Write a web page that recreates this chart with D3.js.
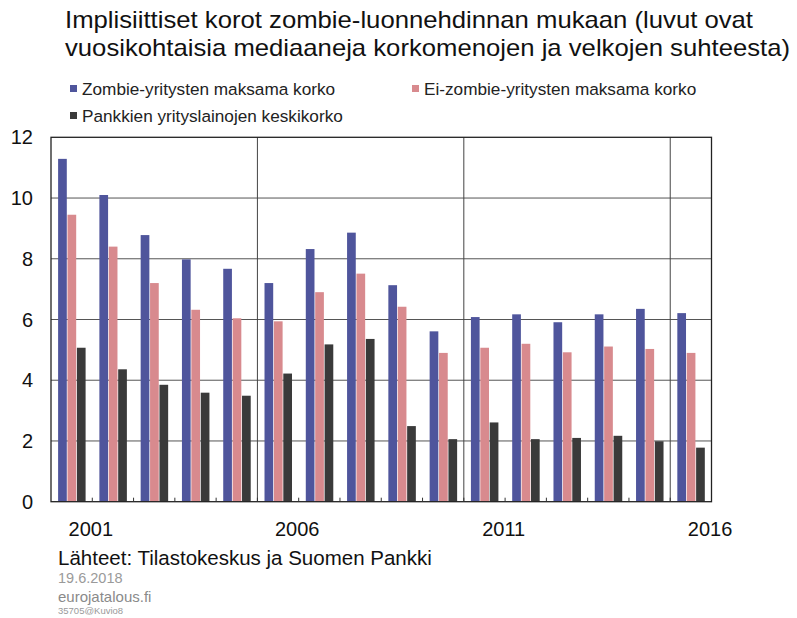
<!DOCTYPE html>
<html><head><meta charset="utf-8">
<script src="https://cdn.jsdelivr.net/npm/d3@7"></script>
<style>body{margin:0;background:#fff}svg{display:block;font-family:"Liberation Sans",Arial,sans-serif}</style>
</head><body><svg id="c" width="797" height="618"></svg>
<script>
const years = [2001,2002,2003,2004,2005,2006,2007,2008,2009,2010,2011,2012,2013,2014,2015,2016];
const seriesNames = ["Zombie-yritysten maksama korko","Ei-zombie-yritysten maksama korko","Pankkien yrityslainojen keskikorko"];
const zombie   = [11.29,10.10,8.78,7.98,7.67,7.20,8.32,8.86,7.13,5.61,6.08,6.17,5.91,6.17,6.35,6.21];
const nonZombie= [9.45,8.40,7.20,6.32,6.04,5.94,6.90,7.51,6.42,4.90,5.07,5.20,4.92,5.11,5.03,4.90];
const bankRate = [5.07,4.36,3.85,3.59,3.49,4.22,5.18,5.36,2.49,2.06,2.61,2.06,2.10,2.17,1.99,1.78];
const yTicks = [0,2,4,6,8,10,12];
const xLabels = [2001,2006,2011,2016];
const colors = ["#4f559c","#d88a8e","#3a3a3a"];

const svg = d3.select("#c");
const L=51, R=711.5, T=137.3, B=501.7;
const x = d3.scaleBand().domain(years).range([L,R]).paddingInner(0).paddingOuter(0);
const step = x.step();
const x1 = d3.scaleBand().domain([0,1,2]).range([step*0.172, step*0.855]);
const y = d3.scaleLinear().domain([0,12]).range([B,T]);

// Title
const title = svg.append("g").attr("font-size",24).attr("fill","#111");
title.append("text").attr("x",65).attr("y",28).attr("textLength",688).attr("lengthAdjust","spacingAndGlyphs")
  .text("Implisiittiset korot zombie-luonnehdinnan mukaan (luvut ovat");
title.append("text").attr("x",65).attr("y",56).attr("textLength",725).attr("lengthAdjust","spacingAndGlyphs")
  .text("vuosikohtaisia mediaaneja korkomenojen ja velkojen suhteesta)");

// Legend
const legPos = [[70,89],[412,89],[70,116]];
const leg = svg.append("g").attr("font-size",17.2).attr("fill","#222");
seriesNames.forEach((n,i)=>{
  leg.append("rect").attr("x",legPos[i][0]).attr("y",legPos[i][1]-4).attr("width",7).attr("height",7).attr("fill",colors[i]);
  leg.append("text").attr("x",legPos[i][0]+12).attr("y",legPos[i][1]+6).text(n);
});

// Grid
const grid = svg.append("g");
grid.selectAll("line.h").data(yTicks.filter(t=>t>0&&t<12)).join("line")
  .attr("x1",L).attr("x2",R).attr("y1",d=>y(d)).attr("y2",d=>y(d))
  .attr("stroke","#555").attr("stroke-width",1);
grid.selectAll("line.v").data([2006,2011,2016]).join("line")
  .attr("x1",d=>x(d)).attr("x2",d=>x(d)).attr("y1",T).attr("y2",B)
  .attr("stroke","#444").attr("stroke-width",1);

// Bars
const data = [zombie,nonZombie,bankRate];
const bars = svg.append("g");
data.forEach((vals,si)=>{
  bars.selectAll("rect.s"+si).data(vals).join("rect")
    .attr("x",(d,i)=>x(years[i])+x1(si))
    .attr("width",x1.bandwidth()-0.7)
    .attr("y",d=>y(d)).attr("height",d=>B-y(d))
    .attr("fill",colors[si]);
});

// Frame
svg.append("rect").attr("x",L).attr("y",T).attr("width",R-L).attr("height",B-T)
  .attr("fill","none").attr("stroke","#222").attr("stroke-width",1.3);
// small ticks at slot boundaries
svg.append("g").selectAll("line").data(years.slice(1)).join("line")
  .attr("x1",d=>x(d)).attr("x2",d=>x(d)).attr("y1",B).attr("y2",B-4)
  .attr("stroke","#333").attr("stroke-width",1);

// Y axis labels
svg.append("g").attr("font-size",20).attr("fill","#111").attr("text-anchor","end")
  .selectAll("text").data(yTicks).join("text")
  .attr("x",33).attr("y",d=>y(d)+7).text(d=>d);

// X labels
svg.append("g").attr("font-size",20).attr("fill","#111").attr("text-anchor","middle")
  .selectAll("text").data(xLabels).join("text")
  .attr("x",d=>x(d)+step*0.965).attr("y",536).text(d=>d);

// Footer
svg.append("text").attr("x",58).attr("y",565).attr("font-size",20.5).attr("fill","#111")
  .text("Lähteet: Tilastokeskus ja Suomen Pankki");
svg.append("text").attr("x",58).attr("y",583).attr("font-size",14.5).attr("fill","#9a9a9a").text("19.6.2018");
svg.append("text").attr("x",58).attr("y",602).attr("font-size",15).attr("fill","#8a8a8a").text("eurojatalous.fi");
svg.append("text").attr("x",58).attr("y",614).attr("font-size",9.5).attr("fill","#9a9a9a").text("35705@Kuvio8");
</script></body></html>
